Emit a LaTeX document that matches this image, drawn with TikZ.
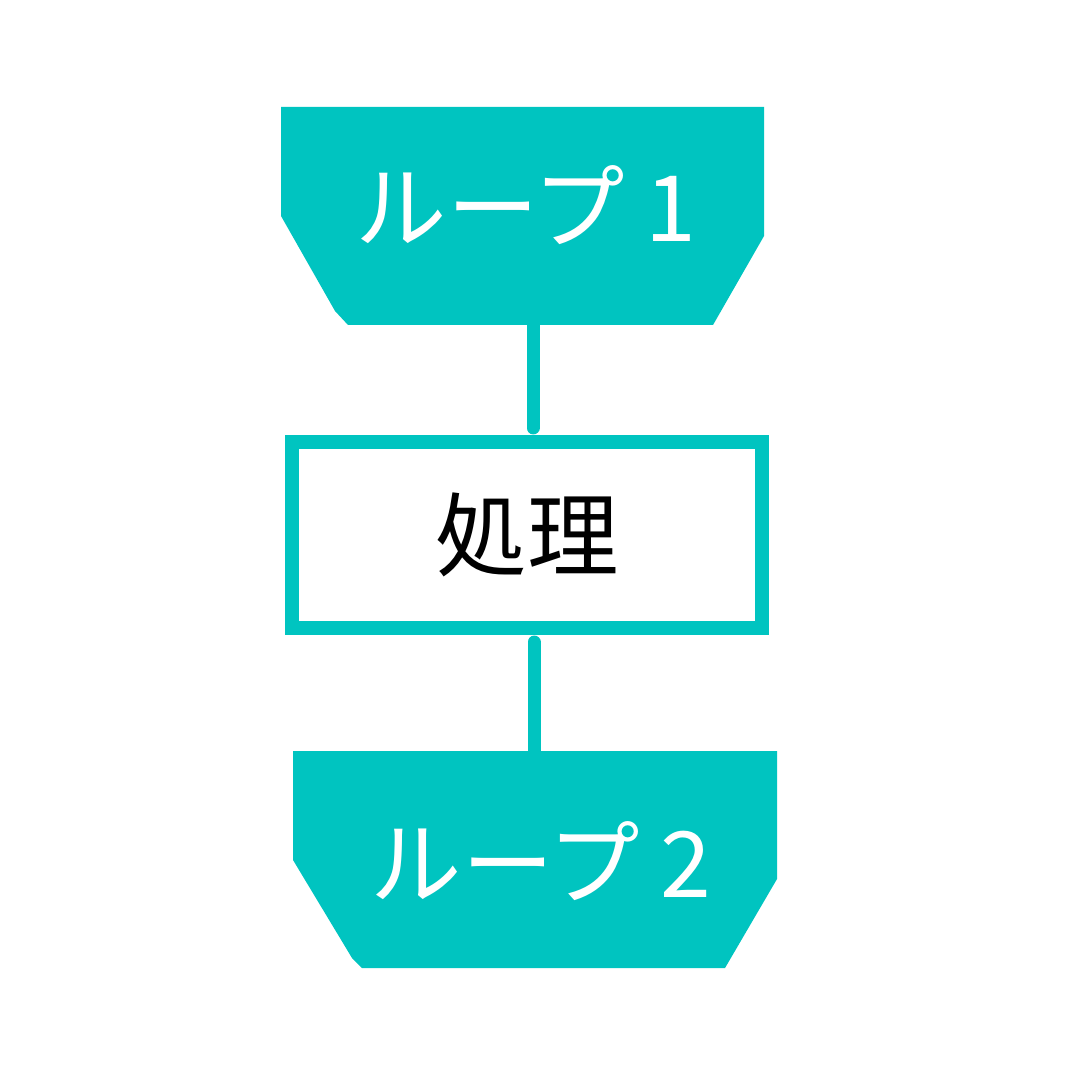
\documentclass[tikz,border=0pt]{standalone}
\usepackage{fontspec}
\usepackage{tikz}
\usetikzlibrary{positioning,calc}
\newfontfamily\jpfont{Noto Sans CJK JP}
\definecolor{loopteal}{HTML}{00C4C0}

\begin{document}
\begin{tikzpicture}[x=0.01cm,y=-0.01cm]
        \useasboundingbox[fill=white] (0,0) rectangle (1080,1080);
        \def\lw{0.13cm}

        % loop limits
        \fill[loopteal] (281,107) -- (764,107) -- (764,236) -- (713,325) -- (348,325) -- (335,311) -- (281,216) -- cycle;
        \fill[loopteal] (293,751) -- (777,751) -- (777,879) -- (725,968) -- (362,968) -- (352,958) -- (293,860) -- cycle;

        \coordinate (loopA) at (533,325);
        \coordinate (loopB) at (534,751);

        \node[text=white, font=\jpfont\fontsize{26}{26}\selectfont] (labA) at (526,205) {ループ 1};
        \node[text=white, font=\jpfont\fontsize{26}{26}\selectfont] (labB) at (541,861) {ループ 2};

        \node[draw=loopteal, line width=0.14cm, fill=white, minimum width=4.70cm, minimum height=1.86cm,
              font=\jpfont\fontsize{26}{26}\selectfont] (proc) at (527,535) {\raisebox{-0.1cm}{処理}};

        \draw[loopteal, line width=\lw, line cap=round] (loopA) -- ($(loopA |- proc.north)+(0,-7)$);
        \draw[loopteal, line width=\lw, line cap=round] ($(loopB |- proc.south)+(0,7)$) -- (loopB);
    \end{tikzpicture}
\end{document}
